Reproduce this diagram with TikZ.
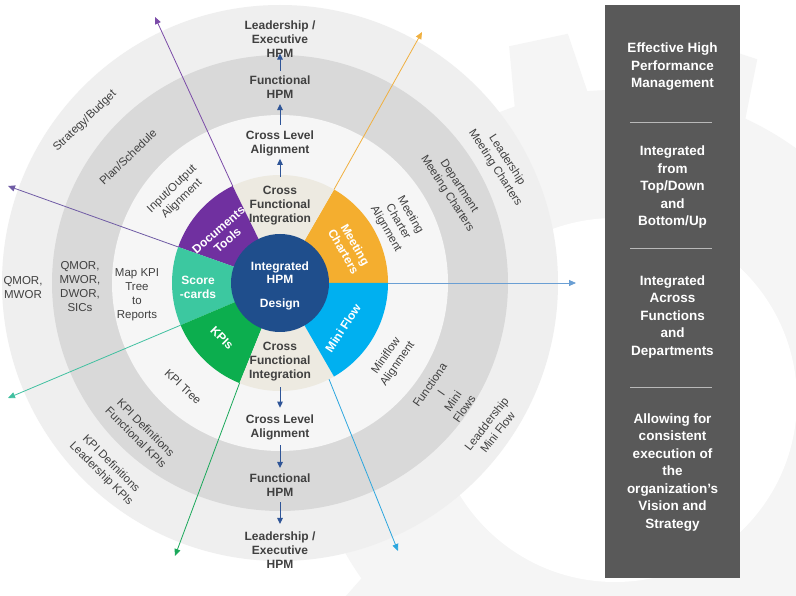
\documentclass[tikz,border=0pt]{standalone}
\usepackage{fontspec}
\setmainfont{Liberation Sans}
\usetikzlibrary{arrows.meta,calc}
\definecolor{ringout}{HTML}{EFEFEF}
\definecolor{ringmid}{HTML}{D9D9D9}
\definecolor{ringin}{HTML}{F6F6F6}
\definecolor{gearc}{HTML}{F5F5F5}
\definecolor{hpmblue}{HTML}{1F4E8C}
\definecolor{cpurple}{HTML}{7030A0}
\definecolor{cteal}{HTML}{3CC8A0}
\definecolor{cgreen}{HTML}{0CAE4E}
\definecolor{cblue}{HTML}{00B0F0}
\definecolor{corange}{HTML}{F4AE2F}
\definecolor{cbeige}{HTML}{EDEAE1}
\definecolor{boxgray}{HTML}{595959}
\definecolor{txt}{HTML}{404040}
\definecolor{arrblue}{HTML}{2F5597}
\definecolor{rayorange}{HTML}{F0B040}
\definecolor{raypurple}{HTML}{7B4BA8}
\definecolor{rayslate}{HTML}{6F5BA5}
\definecolor{rayteal}{HTML}{40C0A0}
\definecolor{raygreen}{HTML}{1AA85A}
\definecolor{rayblue}{HTML}{2CA6DE}
\definecolor{raysteel}{HTML}{6A9FD4}
\newcommand\hpmsector[3]{\fill[#1] (C) -- ++(#2:108) arc[start angle=#2,end angle=#3,radius=108] -- cycle;}
\begin{document}
\begin{tikzpicture}[x=1pt,y=1pt,
  lbl/.style={font=\fontsize{12}{14}\selectfont\bfseries, text=txt, align=center, inner sep=1pt},
  ringtxt/.style={font=\fontsize{11.5}{14}\selectfont, text=txt, align=center, inner sep=1pt},
  seg/.style={font=\fontsize{12}{13.5}\selectfont\bfseries, text=white, align=center, inner sep=1pt},
  side/.style={font=\fontsize{13.5}{17.5}\selectfont\bfseries, text=white, align=center, inner sep=1pt},
  vup/.style={arrblue, line width=1pt, -{Triangle[length=6pt,width=5.5pt]}},
  ray/.style={line width=0.8pt, -{Triangle[length=7pt,width=6pt]}},
  sepline/.style={draw=gray!55, line width=0.6pt},
]
\useasboundingbox (0,0) rectangle (796,-596);
\fill[white] (0,0) rectangle (796,-596);
% faint background gear
\begin{scope}[shift={(615,-400)}]
  \fill[gearc] (0,0) circle (310);
  \foreach \a in {0,30,...,330}
    \fill[gearc, rotate=\a+12] (-38,300) -- (-30,368) -- (30,368) -- (38,300) -- cycle;
  \fill[white] (0,0) circle (182);
\end{scope}
% rings
\coordinate (C) at (280,-283);
\fill[ringout] (C) circle (278);
\fill[ringmid] (C) circle (228);
\fill[ringin] (C) circle (168);
% sectors
\hpmsector{corange}{0}{60}
\hpmsector{cbeige}{60}{116}
\hpmsector{cpurple}{116}{160.5}
\hpmsector{cteal}{160.5}{203}
\hpmsector{cgreen}{203}{248}
\hpmsector{cbeige}{248}{300}
\hpmsector{cblue}{300}{360}
% core
\node[circle, fill=hpmblue, minimum size=98pt, inner sep=0pt] (core) at (C) {};
\node[font=\fontsize{12}{13}\selectfont\bfseries, text=white, align=center, inner sep=0pt] (coretxt) at (280,-286) {Integrated\\HPM\\[11pt]Design};
% ray start and end points
\coordinate (oS) at ($(C)+(60:108)$);   \coordinate (oE) at (422,-32);
\coordinate (pS) at ($(C)+(116:108)$);  \coordinate (pE) at (155,-17);
\coordinate (lS) at ($(C)+(160.5:108)$);\coordinate (lE) at (8,-186);
\coordinate (tS) at ($(C)+(203:108)$);  \coordinate (tE) at (8,-398);
\coordinate (gS) at ($(C)+(248:108)$);  \coordinate (gE) at (175,-556);
\coordinate (bS) at ($(C)+(297:108)$);  \coordinate (bE) at (398,-551);
\coordinate (rS) at ($(C)+(0:108)$);    \coordinate (rE) at (576,-283);
\draw[ray, rayorange] (oS) -- (oE);
\draw[ray, raypurple] (pS) -- (pE);
\draw[ray, rayslate] (lS) -- (lE);
\draw[ray, rayteal] (tS) -- (tE);
\draw[ray, raygreen] (gS) -- (gE);
\draw[ray, rayblue] (bS) -- (bE);
\draw[ray, raysteel] (rS) -- (rE);
% sector labels
\node[seg, rotate=41] (docs) at (223,-235) {Documents\\Tools};
\node[seg] (score) at (198,-287.5) {Score\\-cards};
\node[seg, rotate=-45] (kpis) at (222,-338) {KPIs};
\node[seg, rotate=57] (mini) at (343,-328) {Mini Flow};
\node[seg, rotate=-60] (meet) at (349.5,-248) {Meeting\\Charters};
% vertical column
\node[lbl] (leT) at (280,-39) {Leadership /\\Executive\\HPM};
\node[lbl] (fhT) at (280,-87.5) {Functional\\HPM};
\node[lbl] (claT) at (280,-143) {Cross Level\\Alignment};
\node[lbl] (cfiT) at (280,-205.5) {Cross\\Functional\\Integration};
\node[lbl] (cfiB) at (280,-362) {Cross\\Functional\\Integration};
\node[lbl] (claB) at (280,-427.5) {Cross Level\\Alignment};
\node[lbl] (fhB) at (280,-485) {Functional\\HPM};
\node[lbl] (leB) at (280,-550) {Leadership /\\Executive\\HPM};
\draw[vup] ([yshift=8pt]cfiT.north) -- ([yshift=-2pt]claT.south);
\draw[vup] ([yshift=4.5pt]claT.north) -- ([yshift=-4pt]fhT.south);
\draw[vup] ([yshift=4pt]fhT.north) -- ([yshift=5pt]leT.south);
\draw[vup] ([yshift=-4.5pt]cfiB.south) -- ([yshift=6pt]claB.north);
\draw[vup] ([yshift=-4pt]claB.south) -- ([yshift=4.5pt]fhB.north);
\draw[vup] ([yshift=-4.5pt]fhB.south) -- ([yshift=6.5pt]leB.north);
% ring labels
\node[ringtxt, rotate=44] (strat) at (85,-121) {Strategy/Budget};
\node[ringtxt, rotate=44] (plan) at (128,-157) {Plan/Schedule};
\node[ringtxt, rotate=44] (inout) at (177,-194) {Input/Output\\Alignment};
\node[ringtxt] (qm1) at (23,-287.5) {QMOR,\\MWOR};
\node[ringtxt] (qm2) at (80,-286.5) {QMOR,\\MWOR,\\DWOR,\\SICs};
\node[ringtxt] (mapk) at (137,-294.5) {Map KPI\\Tree\\to\\Reports};
\node[ringtxt, rotate=-43] (kpit) at (183,-387) {KPI Tree};
\node[ringtxt, rotate=-45] (kpif) at (141,-432.5) {KPI Definitions\\Functional KPIs};
\node[ringtxt, rotate=-45] (kpil) at (106,-469) {KPI Definitions\\Leadership KPIs};
\node[ringtxt, rotate=-60] (mca) at (398,-222) {Meeting\\Charter\\Alignment};
\node[ringtxt, rotate=-57] (dmc) at (453,-190) {Department\\Meeting Charters};
\node[ringtxt, rotate=-57] (lmc) at (501,-164) {Leadership\\Meeting Charters};
\node[ringtxt, rotate=55] (mfa) at (392,-360) {Miniflow\\Alignment};
\node[ringtxt, rotate=55] (fmf) at (447,-397) {Functiona\\l\\Mini\\Flows};
\node[ringtxt, rotate=52] (lmf) at (492,-428) {Leaddership\\Mini Flow};
% right panel
\node[fill=boxgray, minimum width=135pt, minimum height=573pt, inner sep=0pt, anchor=north west] (panel) at (605,-5) {};
\node[side] (s1) at (672.5,-67) {Effective High\\Performance\\Management};
\draw[sepline] (630,-122) -- (712,-122);
\node[side] (s2) at (672.5,-187.5) {Integrated\\from\\Top/Down\\and\\Bottom/Up};
\draw[sepline] (630,-248) -- (712,-248);
\node[side] (s3) at (672.5,-317) {Integrated\\Across\\Functions\\and\\Departments};
\draw[sepline] (630,-387) -- (712,-387);
\node[side] (s4) at (672.5,-472.5) {Allowing for\\consistent\\execution of\\the\\organization’s\\Vision and\\Strategy};
\end{tikzpicture}
\end{document}
